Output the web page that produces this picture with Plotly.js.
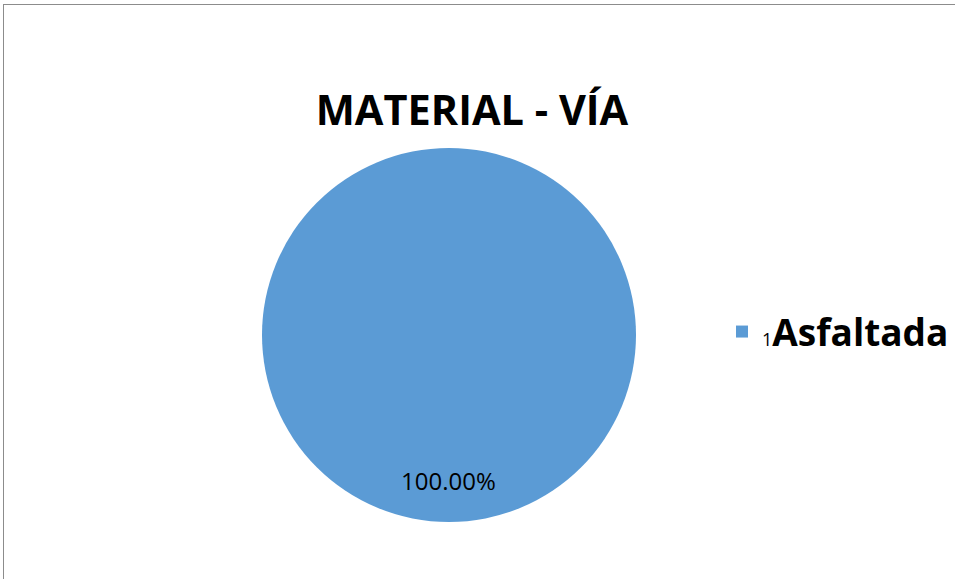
<!DOCTYPE html>
<html><head><meta charset="utf-8">
<script src="https://cdn.plot.ly/plotly-3.0.1.min.js"></script>
<style>
html,body{margin:0;padding:0;background:#fff;overflow:hidden}
#chart{width:955px;height:579px}
#frame{position:absolute;left:3px;top:4px;width:1000px;height:1000px;border:1px solid #8c8c8c;pointer-events:none;box-sizing:border-box}
</style></head>
<body>
<div id="chart"></div>
<div id="frame"></div>
<script>
const categories = ["Asfaltada"];
const legendPrefix = ["1"];
const values = [1];
const chartTitle = "MATERIAL - VÍA";

const total = values.reduce((a,b)=>a+b,0);
const pctText = values.map(v => (v/total*100).toFixed(2) + "%");

function build(s){
  const px = x => (x - s.l) / s.w;
  const py = y => (s.t + s.h - y) / s.h;
  const trace = {
    type: "pie",
    labels: categories.map((c,i)=>"<span style='font-size:18px;font-weight:normal'>"+legendPrefix[i]+"</span><b>"+c+"</b>"),
    values: values,
    sort: false,
    direction: "clockwise",
    marker: {colors: ["#5B9BD5"], line: {width: 0}},
    textinfo: "none",
    hoverinfo: "none",
    domain: {x: [px(262), px(636)], y: [py(522), py(148)]}
  };
  const layout = {
    width: 955, height: 579,
    margin: {l:0, r:0, t:0, b:0},
    paper_bgcolor: "#ffffff",
    font: {family: "Open Sans, sans-serif", color: "#000"},
    title: {text: "<b>"+chartTitle+"</b>", font: {size: 41.5, family: "Open Sans, sans-serif", color:"#000"},
            x: 472/955, xanchor: "center", y: 1-110/579, yanchor: "middle"},
    showlegend: true,
    legend: {x: px(722), xanchor: "left", y: py(332), yanchor: "middle",
             font: {size: 37, family: "Open Sans, sans-serif", color:"#000"},
             bgcolor: "rgba(0,0,0,0)", itemwidth: 30},
    annotations: [{
      xref: "paper", yref: "paper",
      x: px(448), y: py(480), xanchor: "center", yanchor: "middle",
      text: pctText[0], showarrow: false,
      font: {size: 24, family: "Open Sans, sans-serif", color: "#000"}
    }]
  };
  return [[trace], layout];
}

const gd = document.getElementById("chart");
let s = {l:0, t:0, w:955, h:579};
let [d, l] = build(s);
Plotly.newPlot(gd, d, l, {staticPlot: true});
for (let i = 0; i < 8; i++) {
  const fs = gd._fullLayout._size;
  s = {l: fs.l, t: fs.t, w: fs.w, h: fs.h};
  [d, l] = build(s);
  Plotly.react(gd, d, l, {staticPlot: true});
}
</script>
</body></html>
